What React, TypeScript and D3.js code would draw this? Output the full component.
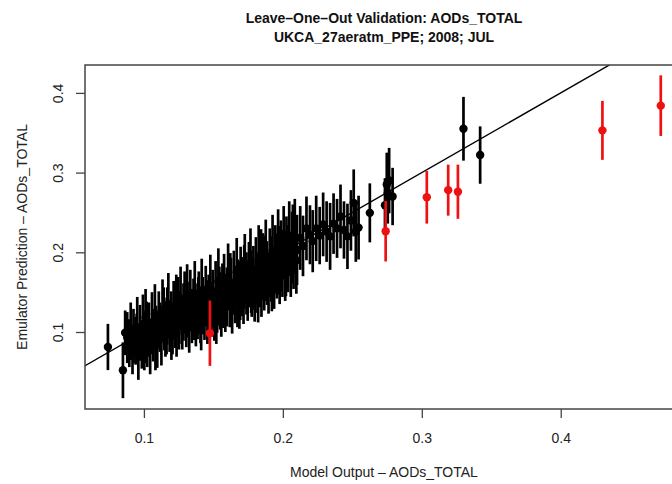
import React, { useRef, useEffect } from "react";
import * as d3 from "d3";

// [model output, emulator prediction, error half-width]
const blackPoints: [number, number, number][] = [
  [0.0741, 0.0812, 0.029], [0.0849, 0.052, 0.035], [0.0865, 0.099, 0.028], [0.088, 0.093, 0.032],
  [0.0895, 0.086, 0.03], [0.0905, 0.101, 0.036], [0.0918, 0.078, 0.031], [0.0925, 0.095, 0.034],
  [0.094, 0.089, 0.03], [0.0948, 0.092, 0.031], [0.0952, 0.106, 0.038], [0.096, 0.072, 0.032],
  [0.0972, 0.099, 0.035], [0.0985, 0.083, 0.029], [0.0993, 0.11, 0.037], [0.1003, 0.082, 0.03],
  [0.1005, 0.094, 0.033], [0.1012, 0.118, 0.036], [0.102, 0.108, 0.03], [0.1024, 0.087, 0.031],
  [0.1036, 0.103, 0.034], [0.1045, 0.077, 0.03], [0.1058, 0.112, 0.038], [0.1066, 0.096, 0.033],
  [0.1079, 0.123, 0.037], [0.1083, 0.085, 0.033], [0.1088, 0.101, 0.032], [0.1096, 0.089, 0.034],
  [0.1107, 0.115, 0.036], [0.1115, 0.106, 0.031], [0.1126, 0.093, 0.035], [0.1134, 0.128, 0.038],
  [0.1142, 0.121, 0.035], [0.1147, 0.11, 0.033], [0.1155, 0.099, 0.03], [0.1163, 0.104, 0.032],
  [0.1168, 0.12, 0.036], [0.1176, 0.135, 0.039], [0.1185, 0.107, 0.032], [0.1197, 0.116, 0.035],
  [0.1198, 0.096, 0.031], [0.1206, 0.103, 0.031], [0.1214, 0.127, 0.037], [0.1226, 0.114, 0.034],
  [0.1233, 0.135, 0.037], [0.1235, 0.099, 0.03], [0.1247, 0.131, 0.038], [0.1252, 0.112, 0.034],
  [0.1255, 0.118, 0.033], [0.1264, 0.142, 0.04], [0.1276, 0.109, 0.031], [0.1285, 0.125, 0.036],
  [0.1293, 0.137, 0.039], [0.1305, 0.115, 0.034], [0.1311, 0.147, 0.038], [0.1314, 0.128, 0.035],
  [0.1326, 0.106, 0.032], [0.1334, 0.14, 0.038], [0.1345, 0.12, 0.034], [0.1357, 0.131, 0.036],
  [0.1363, 0.123, 0.033], [0.1366, 0.148, 0.041], [0.1374, 0.113, 0.031], [0.1386, 0.126, 0.035],
  [0.1392, 0.133, 0.036], [0.1395, 0.139, 0.037], [0.1407, 0.119, 0.033], [0.1412, 0.109, 0.032],
  [0.1416, 0.152, 0.04], [0.1424, 0.133, 0.036], [0.1436, 0.124, 0.034], [0.1445, 0.145, 0.038],
  [0.1457, 0.117, 0.032], [0.1462, 0.13, 0.035], [0.1466, 0.136, 0.036], [0.1478, 0.156, 0.041],
  [0.1486, 0.128, 0.034], [0.1495, 0.141, 0.037], [0.1507, 0.122, 0.033], [0.1516, 0.15, 0.039],
  [0.1521, 0.118, 0.033], [0.1527, 0.134, 0.035], [0.1536, 0.163, 0.042], [0.1543, 0.145, 0.037],
  [0.1548, 0.139, 0.036], [0.1557, 0.127, 0.033], [0.1565, 0.148, 0.038], [0.1572, 0.141, 0.036],
  [0.1577, 0.158, 0.04], [0.1586, 0.135, 0.035], [0.1597, 0.144, 0.037], [0.1606, 0.169, 0.042],
  [0.1618, 0.14, 0.034], [0.1622, 0.16, 0.039], [0.1627, 0.154, 0.039], [0.1635, 0.131, 0.033],
  [0.1647, 0.162, 0.04], [0.1656, 0.147, 0.036], [0.1668, 0.175, 0.043], [0.1673, 0.141, 0.035],
  [0.1676, 0.153, 0.038], [0.1687, 0.138, 0.034], [0.1693, 0.152, 0.037], [0.1696, 0.166, 0.041],
  [0.1708, 0.157, 0.037], [0.1717, 0.145, 0.035], [0.1722, 0.169, 0.04], [0.1726, 0.18, 0.043],
  [0.1738, 0.161, 0.039], [0.1747, 0.15, 0.036], [0.1756, 0.172, 0.041], [0.1767, 0.186, 0.044],
  [0.1772, 0.163, 0.039], [0.1776, 0.156, 0.037], [0.1788, 0.168, 0.04], [0.1797, 0.148, 0.035],
  [0.1806, 0.177, 0.042], [0.1817, 0.162, 0.038], [0.1822, 0.148, 0.036], [0.1826, 0.19, 0.044],
  [0.1837, 0.171, 0.04], [0.1843, 0.187, 0.042], [0.1846, 0.155, 0.036], [0.1857, 0.182, 0.042],
  [0.1866, 0.165, 0.038], [0.1871, 0.18, 0.041], [0.1877, 0.196, 0.045], [0.1886, 0.174, 0.04],
  [0.1897, 0.16, 0.037], [0.1906, 0.187, 0.043], [0.1917, 0.179, 0.041], [0.1921, 0.164, 0.038],
  [0.1926, 0.202, 0.045], [0.1937, 0.168, 0.039], [0.1946, 0.191, 0.043], [0.1957, 0.183, 0.041],
  [0.1966, 0.208, 0.046], [0.1972, 0.19, 0.043], [0.1977, 0.174, 0.039], [0.1986, 0.196, 0.044],
  [0.1997, 0.186, 0.042], [0.2006, 0.212, 0.046], [0.2017, 0.179, 0.04], [0.2022, 0.186, 0.041],
  [0.2026, 0.201, 0.044], [0.2037, 0.192, 0.042], [0.2046, 0.217, 0.047], [0.2057, 0.185, 0.041],
  [0.2066, 0.206, 0.045], [0.2072, 0.214, 0.046], [0.2077, 0.197, 0.043], [0.2086, 0.22, 0.047],
  [0.2097, 0.19, 0.042], [0.2102, 0.203, 0.044], [0.2125, 0.218, 0.04], [0.2145, 0.208, 0.038],
  [0.217, 0.23, 0.04], [0.2195, 0.222, 0.037], [0.2215, 0.214, 0.039], [0.224, 0.23, 0.041],
  [0.2265, 0.221, 0.036], [0.229, 0.235, 0.04], [0.2315, 0.226, 0.038], [0.234, 0.22, 0.042],
  [0.2365, 0.236, 0.038], [0.239, 0.23, 0.037], [0.2415, 0.245, 0.04], [0.244, 0.228, 0.036],
  [0.2465, 0.22, 0.041], [0.249, 0.24, 0.038], [0.251, 0.262, 0.042], [0.2525, 0.226, 0.038],
  [0.2545, 0.231, 0.04], [0.2626, 0.2495, 0.037], [0.2735, 0.259, 0.034], [0.2748, 0.285, 0.04],
  [0.2755, 0.274, 0.038], [0.2765, 0.29, 0.041], [0.279, 0.27, 0.036], [0.33, 0.355, 0.04],
  [0.342, 0.322, 0.036],
];

const redPoints: [number, number, number][] = [
  [0.1475, 0.0985, 0.041], [0.274, 0.2265, 0.038], [0.3036, 0.269, 0.033],
  [0.319, 0.278, 0.032], [0.326, 0.276, 0.034], [0.43, 0.353, 0.037], [0.472, 0.384, 0.038],
];

const xTicks = [0.1, 0.2, 0.3, 0.4];
const yTicks = [0.1, 0.2, 0.3, 0.4];

const titleLines = ["Leave–One–Out Validation: AODs_TOTAL", "UKCA_27aeratm_PPE; 2008; JUL"];
const xLabel = "Model Output – AODs_TOTAL";
const yLabel = "Emulator Prediction – AODs_TOTAL";

const App = () => {
  const svgRef = useRef<SVGSVGElement>(null);
  const width = 672;
  const height = 484;

  useEffect(() => {
    const svg = d3.select(svgRef.current);
    svg.selectAll("*").remove();

    const margin = { top: 65, right: -11, bottom: 75, left: 85 };
    const x = d3.scaleLinear().domain([0.0576, 0.488]).range([margin.left, width - margin.right]);
    const y = d3.scaleLinear().domain([0.0034, 0.435]).range([height - margin.bottom, margin.top]);
    const font = "'Liberation Sans', Arial, sans-serif";

    svg.append("rect").attr("width", width).attr("height", height).attr("fill", "white");

    svg.append("clipPath").attr("id", "plotClip")
      .append("rect")
      .attr("x", x.range()[0]).attr("y", y.range()[1])
      .attr("width", x.range()[1] - x.range()[0])
      .attr("height", y.range()[0] - y.range()[1]);

    const plot = svg.append("g").attr("clip-path", "url(#plotClip)");

    // 1:1 line
    plot.append("line")
      .attr("x1", x(0)).attr("y1", y(0))
      .attr("x2", x(0.5)).attr("y2", y(0.5))
      .attr("stroke", "black").attr("stroke-width", 1.4);

    const drawSet = (pts: [number, number, number][], color: string) => {
      plot.append("g").selectAll("line")
        .data(pts).enter().append("line")
        .attr("x1", (d) => x(d[0])).attr("x2", (d) => x(d[0]))
        .attr("y1", (d) => y(d[1] - d[2])).attr("y2", (d) => y(d[1] + d[2]))
        .attr("stroke", color).attr("stroke-width", 2.7);
      plot.append("g").selectAll("circle")
        .data(pts).enter().append("circle")
        .attr("cx", (d) => x(d[0])).attr("cy", (d) => y(d[1]))
        .attr("r", 4.2).attr("fill", color);
    };
    drawSet(blackPoints, "black");
    drawSet(redPoints, "#ee1111");

    // box
    svg.append("rect")
      .attr("x", x.range()[0]).attr("y", y.range()[1])
      .attr("width", x.range()[1] - x.range()[0])
      .attr("height", y.range()[0] - y.range()[1])
      .attr("fill", "none").attr("stroke", "#444").attr("stroke-width", 1.5);

    const xAxis = svg.append("g")
      .attr("transform", `translate(0,${y.range()[0]})`)
      .call(d3.axisBottom(x).tickValues(xTicks).tickSize(9).tickPadding(15).tickFormat(d3.format(".1f")));
    xAxis.select(".domain").remove();
    xAxis.selectAll("line").attr("stroke", "#444").attr("stroke-width", 1.3);
    xAxis.selectAll("text").attr("font-family", font).attr("font-size", 14).attr("fill", "#222");

    const yAxis = svg.append("g")
      .attr("transform", `translate(${x.range()[0]},0)`)
      .call(d3.axisLeft(y).tickValues(yTicks).tickSize(9).tickFormat(d3.format(".1f")));
    yAxis.select(".domain").remove();
    yAxis.selectAll("line").attr("stroke", "#444").attr("stroke-width", 1.3);
    yAxis.selectAll("text")
      .attr("font-family", font).attr("font-size", 14).attr("fill", "#222")
      .attr("x", null).attr("dy", null)
      .attr("text-anchor", "middle")
      .attr("transform", "translate(-22,0) rotate(-90)");

    const cx = (x.range()[0] + x.range()[1]) / 2;
    const cy = (y.range()[0] + y.range()[1]) / 2;

    svg.selectAll(".title")
      .data(titleLines).enter().append("text")
      .attr("x", cx).attr("y", (d, i) => 23 + i * 19)
      .attr("text-anchor", "middle")
      .attr("font-family", font).attr("font-size", 14).attr("font-weight", "bold")
      .attr("fill", "#111")
      .text((d) => d);

    svg.append("text")
      .attr("x", cx).attr("y", 477)
      .attr("text-anchor", "middle")
      .attr("font-family", font).attr("font-size", 14).attr("fill", "#222")
      .text(xLabel);

    svg.append("text")
      .attr("transform", `translate(27,${cy}) rotate(-90)`)
      .attr("text-anchor", "middle")
      .attr("font-family", font).attr("font-size", 14).attr("fill", "#222")
      .text(yLabel);
  }, []);

  return (
    <div style={{ position: "absolute", left: 0, top: 0 }}>
      <svg ref={svgRef} width={width} height={height}></svg>
    </div>
  );
};

export default App;
